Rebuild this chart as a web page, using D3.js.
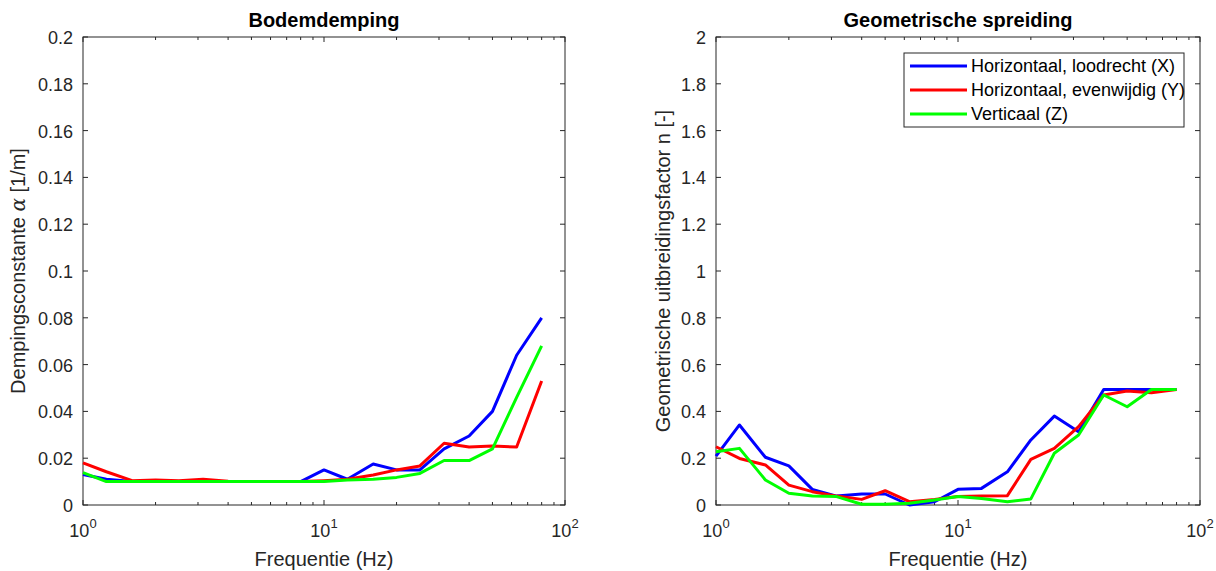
<!DOCTYPE html>
<html><head><meta charset="utf-8">
<script src="https://cdn.jsdelivr.net/npm/d3@7"></script>
<style>body{margin:0;background:#fff}svg{display:block}text{font-family:"Liberation Sans",Arial,sans-serif}</style>
</head><body><svg id="c" width="1216" height="571"></svg>
<script>
const freqs = [1,1.25,1.6,2,2.5,3.15,4,5,6.3,8,10,12.5,16,20,25,31.5,40,50,63,80];
const seriesNames = ["Horizontaal, loodrecht (X)","Horizontaal, evenwijdig (Y)","Verticaal (Z)"];
const seriesColors = ["#0000ff","#ff0000","#00ff00"];
// Bodemdemping
const dampX = [0.013,0.011,0.010,0.010,0.010,0.010,0.010,0.010,0.010,0.010,0.015,0.011,0.0175,0.015,0.015,0.024,0.0295,0.040,0.064,0.080];
const dampY = [0.018,0.0142,0.0104,0.0107,0.0104,0.011,0.0102,0.010,0.010,0.010,0.0104,0.011,0.0128,0.015,0.0167,0.0264,0.0248,0.0252,0.0248,0.053];
const dampZ = [0.0138,0.010,0.010,0.010,0.010,0.010,0.010,0.010,0.010,0.010,0.010,0.0107,0.011,0.0118,0.0135,0.019,0.019,0.024,0.046,0.068];
// Geometrische spreiding
const geoX = [0.209,0.342,0.204,0.167,0.067,0.038,0.047,0.047,0.0,0.014,0.067,0.071,0.142,0.278,0.380,0.313,0.494,0.494,0.494,0.494];
const geoY = [0.249,0.199,0.171,0.085,0.057,0.038,0.024,0.061,0.014,0.024,0.036,0.038,0.040,0.195,0.242,0.335,0.470,0.487,0.480,0.494];
const geoZ = [0.228,0.242,0.107,0.050,0.038,0.036,0.003,0.003,0.007,0.021,0.036,0.028,0.014,0.026,0.221,0.299,0.470,0.420,0.494,0.494];
const dampTicks = [0,0.02,0.04,0.06,0.08,0.1,0.12,0.14,0.16,0.18,0.2];
const geoTicks = [0,0.2,0.4,0.6,0.8,1,1.2,1.4,1.6,1.8,2];
const xDecades = [1,10,100];

const svg = d3.select("#c");
const axCol = "#262626";

function panel(o){
  const g = svg.append("g");
  const x = d3.scaleLog().domain([1,100]).range([o.x0,o.x1]);
  const y = d3.scaleLinear().domain(o.ydom).range([o.y1,o.y0]);
  g.append("rect").attr("x",o.x0).attr("y",o.y0).attr("width",o.x1-o.x0).attr("height",o.y1-o.y0)
    .attr("fill","#fff").attr("stroke",axCol).attr("stroke-width",1);
  const tl = 5;
  const minors = [];
  [1,10].forEach(d=>{for(let k=2;k<=9;k++) minors.push(d*k);});
  minors.forEach(v=>{
    g.append("line").attr("x1",x(v)).attr("x2",x(v)).attr("y1",o.y1).attr("y2",o.y1-3).attr("stroke",axCol);
    g.append("line").attr("x1",x(v)).attr("x2",x(v)).attr("y1",o.y0).attr("y2",o.y0+3).attr("stroke",axCol);
  });
  xDecades.forEach(v=>{
    g.append("line").attr("x1",x(v)).attr("x2",x(v)).attr("y1",o.y1).attr("y2",o.y1-tl).attr("stroke",axCol);
    g.append("line").attr("x1",x(v)).attr("x2",x(v)).attr("y1",o.y0).attr("y2",o.y0+tl).attr("stroke",axCol);
    const t = g.append("text").attr("x",x(v)).attr("y",o.y1+32).attr("text-anchor","middle")
      .attr("font-size",18).attr("fill",axCol);
    t.append("tspan").text("10");
    t.append("tspan").attr("dy",-9).attr("font-size",13).text(Math.round(Math.log10(v)));
  });
  o.ticks.forEach(v=>{
    g.append("line").attr("x1",o.x0).attr("x2",o.x0+tl).attr("y1",y(v)).attr("y2",y(v)).attr("stroke",axCol);
    g.append("line").attr("x1",o.x1).attr("x2",o.x1-tl).attr("y1",y(v)).attr("y2",y(v)).attr("stroke",axCol);
    g.append("text").attr("x",o.x0-10).attr("y",y(v)+7).attr("text-anchor","end")
      .attr("font-size",18).attr("fill",axCol).text(String(v));
  });
  const line = d3.line().x((d,i)=>x(freqs[i])).y(d=>y(d));
  o.series.forEach((s,i)=>{
    g.append("path").attr("d",line(s)).attr("fill","none").attr("stroke",seriesColors[i])
      .attr("stroke-width",3).attr("stroke-linejoin","round");
  });
  g.append("text").attr("x",(o.x0+o.x1)/2).attr("y",27).attr("text-anchor","middle")
    .attr("font-size",20).attr("font-weight","bold").attr("fill","#000").text(o.title);
  g.append("text").attr("x",(o.x0+o.x1)/2).attr("y",o.y1+61).attr("text-anchor","middle")
    .attr("font-size",20).attr("fill",axCol).text("Frequentie (Hz)");
  const yl = g.append("text").attr("transform",`translate(${o.ylx},${(o.y0+o.y1)/2}) rotate(-90)`)
    .attr("text-anchor","middle").attr("font-size",20).attr("fill",axCol);
  o.ylabel(yl);
  return {g,x,y};
}

panel({x0:83,x1:565,y0:37,y1:505,ydom:[0,0.2],ticks:dampTicks,series:[dampX,dampY,dampZ],
  title:"Bodemdemping",ylx:25,
  ylabel:t=>{t.append("tspan").text("Dempingsconstante ");
    t.append("tspan").attr("font-family","DejaVu Serif,serif").attr("font-style","italic").text("α");
    t.append("tspan").text(" [1/m]");}});

panel({x0:716,x1:1200,y0:37,y1:505,ydom:[0,2],ticks:geoTicks,series:[geoX,geoY,geoZ],
  title:"Geometrische spreiding",ylx:670,
  ylabel:t=>t.text("Geometrische uitbreidingsfactor n [-]")});

const lg = svg.append("g");
lg.append("rect").attr("x",904).attr("y",53).attr("width",280).attr("height",74)
  .attr("fill","#fff").attr("stroke",axCol).attr("stroke-width",1);
seriesNames.forEach((n,i)=>{
  const yy = 66 + i*24;
  lg.append("line").attr("x1",910).attr("x2",967).attr("y1",yy).attr("y2",yy)
    .attr("stroke",seriesColors[i]).attr("stroke-width",3);
  lg.append("text").attr("x",971).attr("y",yy+6).attr("font-size",18).attr("fill","#000").text(n);
});
</script></body></html>
